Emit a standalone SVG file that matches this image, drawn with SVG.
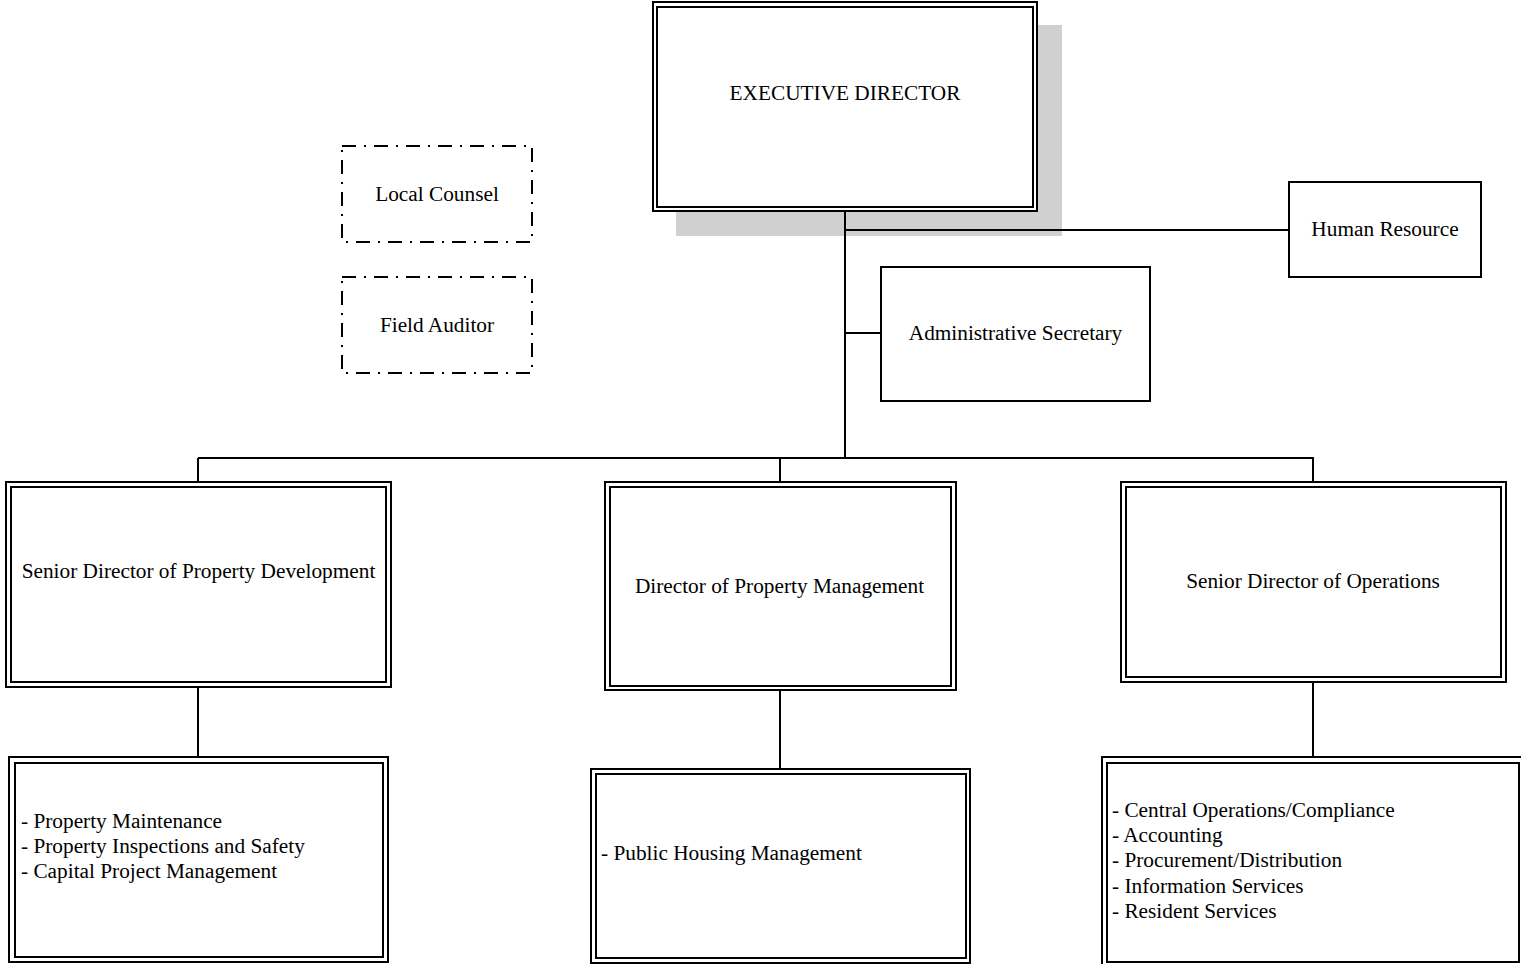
<svg xmlns="http://www.w3.org/2000/svg" width="1521" height="964" viewBox="0 0 1521 964">
<style>
.t{font-family:"Liberation Serif","Times New Roman",serif;font-size:21.3px;fill:#000}
.c{text-anchor:middle}
.box{fill:#fff;stroke:#000;stroke-width:2}
.in{fill:none;stroke:#000;stroke-width:2}
.dd{fill:#fff;stroke:#000;stroke-width:2;stroke-dasharray:14 8 2 8}
.ln{fill:none;stroke:#000;stroke-width:2}
</style>
<rect width="1521" height="964" fill="#fff"/>
<g id="executive-director">
<rect x="676" y="25" width="386" height="211" fill="#d0d0d0"/>
<rect class="box" x="653" y="2" width="384" height="209"/>
<rect class="in" x="657" y="7" width="376" height="200"/>
<text class="t c" x="845" y="100">EXECUTIVE DIRECTOR</text>
</g>
<g id="connectors">
<line class="ln" x1="845" y1="211" x2="845" y2="459"/>
<line class="ln" x1="845" y1="230" x2="1289" y2="230"/>
<line class="ln" x1="845" y1="333" x2="881" y2="333"/>
<line class="ln" x1="198" y1="458" x2="1314" y2="458"/>
<line class="ln" x1="198" y1="458" x2="198" y2="482"/>
<line class="ln" x1="780" y1="458" x2="780" y2="482"/>
<line class="ln" x1="1313" y1="458" x2="1313" y2="482"/>
<line class="ln" x1="198" y1="687" x2="198" y2="757"/>
<line class="ln" x1="780" y1="690" x2="780" y2="769"/>
<line class="ln" x1="1313" y1="682" x2="1313" y2="757"/>
</g>
<g id="local-counsel">
<rect class="dd" x="342" y="146" width="190" height="96"/>
<text class="t c" x="437" y="201">Local Counsel</text>
</g>
<g id="field-auditor">
<rect class="dd" x="342" y="277" width="190" height="96"/>
<text class="t c" x="437" y="332">Field Auditor</text>
</g>
<g id="human-resource">
<rect class="box" x="1289" y="182" width="192" height="95"/>
<text class="t c" x="1385" y="236">Human Resource</text>
</g>
<g id="administrative-secretary">
<rect class="box" x="881" y="267" width="269" height="134"/>
<text class="t c" x="1015.5" y="340">Administrative Secretary</text>
</g>
<g id="senior-director-property-development">
<rect class="box" x="6" y="482" width="385" height="205"/>
<rect class="in" x="11" y="487" width="375" height="195"/>
<text class="t c" x="198.5" y="578">Senior Director of Property Development</text>
</g>
<g id="director-property-management">
<rect class="box" x="605" y="482" width="351" height="208"/>
<rect class="in" x="610" y="487" width="341" height="199"/>
<text class="t c" x="779.5" y="593">Director of Property Management</text>
</g>
<g id="senior-director-operations">
<rect class="box" x="1121" y="482" width="385" height="200"/>
<rect class="in" x="1126" y="487" width="375" height="190"/>
<text class="t c" x="1313" y="588">Senior Director of Operations</text>
</g>
<g id="property-development-units">
<rect class="box" x="9" y="757" width="379" height="205"/>
<rect class="in" x="15" y="763" width="368" height="194"/>
<text class="t" x="21" y="828">- Property Maintenance</text>
<text class="t" x="21" y="853">- Property Inspections and Safety</text>
<text class="t" x="21" y="878">- Capital Project Management</text>
</g>
<g id="property-management-units">
<rect class="box" x="591" y="769" width="379" height="194"/>
<rect class="in" x="596" y="774" width="370" height="184"/>
<text class="t" x="601" y="860">- Public Housing Management</text>
</g>
<g id="operations-units">
<rect class="box" x="1102" y="757" width="422" height="210"/>
<rect class="in" x="1107" y="763" width="412" height="199"/>
<text class="t" x="1112" y="817">- Central Operations/Compliance</text>
<text class="t" x="1112" y="842">- Accounting</text>
<text class="t" x="1112" y="867">- Procurement/Distribution</text>
<text class="t" x="1112" y="893">- Information Services</text>
<text class="t" x="1112" y="918">- Resident Services</text>
</g>
</svg>
